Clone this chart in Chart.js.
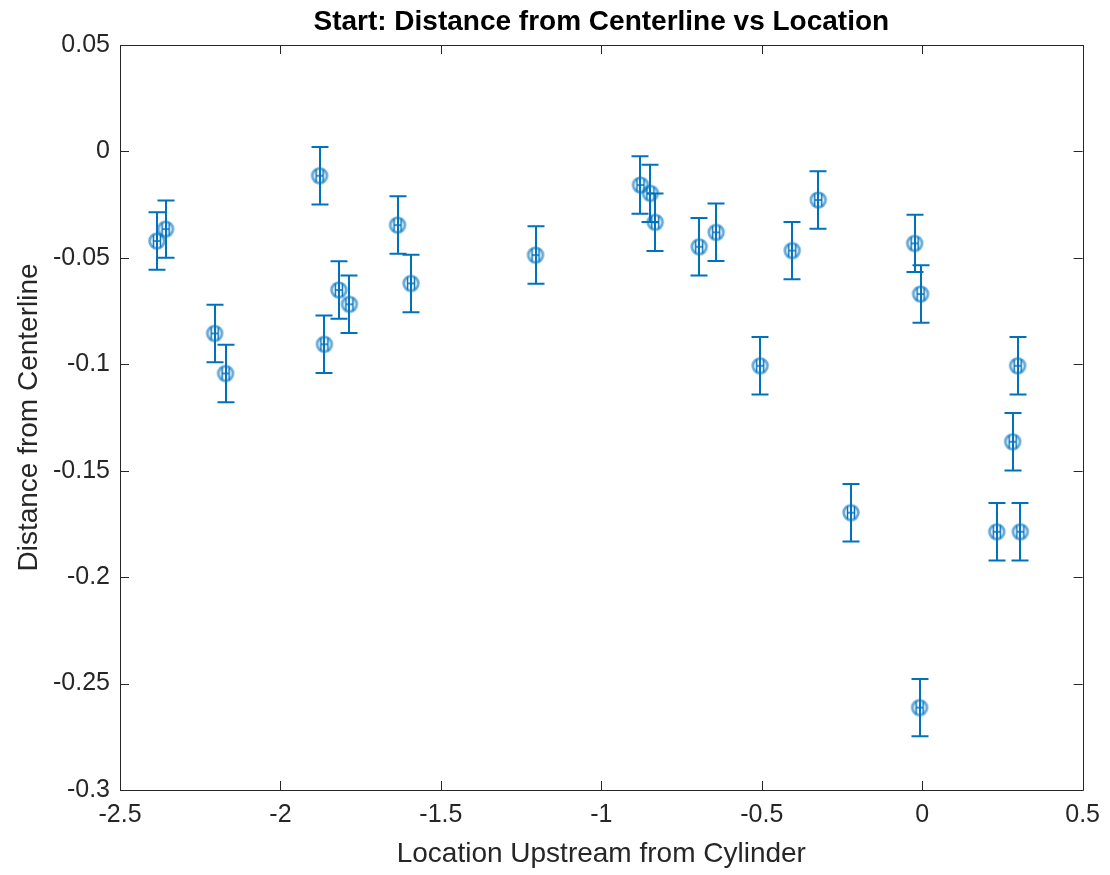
<!DOCTYPE html>
<html>
<head>
<meta charset="utf-8">
<title>Start: Distance from Centerline vs Location</title>
<script src="https://cdn.jsdelivr.net/npm/chart.js@4.4.1/dist/chart.umd.min.js"></script>
<style>
  html, body { margin: 0; padding: 0; background: #ffffff; }
  #wrap { width: 1110px; height: 875px; }
</style>
</head>
<body>
<div id="wrap"><canvas id="chart" width="1110" height="875"></canvas></div>
<script>
// Measured positions (upstream from cylinder) and offsets from the centerline
const locations = [
  -2.385, -2.358, -2.205, -2.171, -1.878, -1.863, -1.818, -1.785, -1.635,
  -1.593, -1.205, -0.878, -0.847, -0.832, -0.695, -0.642, -0.505, -0.405,
  -0.324, -0.222, -0.0235, -0.005, -0.008, 0.2324, 0.282, 0.2976, 0.306
];
const distances = [
  -0.0421, -0.0365, -0.0855, -0.1043, -0.0114, -0.0906, -0.0651, -0.0718, -0.0346,
  -0.0620, -0.0487, -0.0158, -0.0197, -0.0333, -0.0448, -0.0380, -0.1007, -0.0466,
  -0.0228, -0.1697, -0.0432, -0.0670, -0.2613, -0.1787, -0.1364, -0.1007, -0.1787
];
const distanceErr = [
  0.0135, 0.0135, 0.0135, 0.0135, 0.0135, 0.0135, 0.0135, 0.0135, 0.0135,
  0.0135, 0.0135, 0.0135, 0.0135, 0.0135, 0.0135, 0.0135, 0.0135, 0.0135,
  0.0135, 0.0135, 0.0135, 0.0135, 0.0135, 0.0135, 0.0135, 0.0135, 0.0135
];

const xTickValues = [-2.5, -2, -1.5, -1, -0.5, 0, 0.5];
const xTickLabels = ['-2.5', '-2', '-1.5', '-1', '-0.5', '0', '0.5'];
const yTickValues = [0.05, 0, -0.05, -0.1, -0.15, -0.2, -0.25, -0.3];
const yTickLabels = ['0.05', '0', '-0.05', '-0.1', '-0.15', '-0.2', '-0.25', '-0.3'];

const BLUE = '#0072BD';
const AXIS = '#262626';

// Circle marker with the inner hatch, drawn once and used as the point style
function makeMarker() {
  const c = document.createElement('canvas');
  c.width = 22; c.height = 22;
  const g = c.getContext('2d');
  g.strokeStyle = 'rgba(0,114,189,0.6)';
  g.lineWidth = 2.8;
  g.beginPath(); g.arc(11, 11, 7.3, 0, Math.PI * 2); g.stroke();
  g.strokeStyle = BLUE;
  g.lineWidth = 1.5;
  g.beginPath();
  g.moveTo(7.5, 4.5); g.lineTo(7.5, 17.5);
  g.moveTo(14.5, 4.5); g.lineTo(14.5, 17.5);
  g.moveTo(7.5, 11); g.lineTo(14.5, 11);
  g.stroke();
  return c;
}

function labelFor(values, labels, v) {
  let best = 0;
  for (let i = 1; i < values.length; i++) {
    if (Math.abs(values[i] - v) < Math.abs(values[best] - v)) best = i;
  }
  return labels[best];
}

// Vertical error bars with caps
const errorBars = {
  id: 'errorBars',
  beforeDatasetsDraw(chart) {
    const { ctx, scales: { x, y } } = chart;
    ctx.save();
    ctx.strokeStyle = BLUE;
    ctx.lineWidth = 2;
    const cap = 8.5;
    for (let i = 0; i < locations.length; i++) {
      const px = Math.round(x.getPixelForValue(locations[i]));
      const top = y.getPixelForValue(distances[i] + distanceErr[i]);
      const bot = y.getPixelForValue(distances[i] - distanceErr[i]);
      ctx.beginPath();
      ctx.moveTo(px, top); ctx.lineTo(px, bot);
      ctx.moveTo(px - cap, top); ctx.lineTo(px + cap, top);
      ctx.moveTo(px - cap, bot); ctx.lineTo(px + cap, bot);
      ctx.stroke();
    }
    ctx.restore();
  }
};

// Boxed axes with inward tick marks on all four sides
const axesBox = {
  id: 'axesBox',
  afterDraw(chart) {
    const { ctx, chartArea: a, scales: { x, y } } = chart;
    ctx.save();
    ctx.strokeStyle = AXIS;
    ctx.lineWidth = 1;
    const tl = 9;
    ctx.beginPath();
    ctx.rect(Math.round(a.left) + 0.5, Math.round(a.top) + 0.5,
             Math.round(a.right - a.left), Math.round(a.bottom - a.top));
    xTickValues.forEach(v => {
      const px = Math.round(x.getPixelForValue(v)) + 0.5;
      ctx.moveTo(px, a.bottom); ctx.lineTo(px, a.bottom - tl);
      ctx.moveTo(px, a.top); ctx.lineTo(px, a.top + tl);
    });
    yTickValues.forEach(v => {
      const py = Math.round(y.getPixelForValue(v)) + 0.5;
      ctx.moveTo(a.left, py); ctx.lineTo(a.left + tl, py);
      ctx.moveTo(a.right, py); ctx.lineTo(a.right - tl, py);
    });
    ctx.stroke();
    ctx.restore();
  }
};

Chart.defaults.font.family = '"Liberation Sans", Arial, Helvetica, sans-serif';
Chart.defaults.color = AXIS;

new Chart(document.getElementById('chart'), {
  type: 'scatter',
  data: {
    datasets: [{
      label: 'Start',
      data: locations.map((v, i) => ({ x: v, y: distances[i] })),
      pointStyle: makeMarker(),
      pointRadius: 8,
      pointHoverRadius: 8,
      showLine: false
    }]
  },
  options: {
    responsive: false,
    animation: false,
    events: [],
    layout: { padding: { left: 0, right: 25, top: 0, bottom: 0 } },
    plugins: {
      legend: { display: false },
      tooltip: { enabled: false },
      title: {
        display: true,
        fullSize: false,
        text: 'Start: Distance from Centerline vs Location',
        color: '#000000',
        font: { size: 28, weight: 'bold' },
        padding: { top: 5, bottom: 6.4 }
      }
    },
    scales: {
      x: {
        type: 'linear',
        min: -2.5, max: 0.5,
        afterBuildTicks: s => { s.ticks = xTickValues.map(v => ({ value: v })); },
        afterFit: s => { s.height = 85; },
        grid: { display: false, drawTicks: false },
        border: { display: false },
        ticks: {
          padding: 10,
          font: { size: 25 },
          maxRotation: 0,
          callback: v => labelFor(xTickValues, xTickLabels, v)
        },
        title: {
          display: true,
          text: 'Location Upstream from Cylinder',
          font: { size: 28 },
          padding: { top: 0, bottom: 4 }
        }
      },
      y: {
        type: 'linear',
        min: -0.3, max: 0.05,
        afterBuildTicks: s => { s.ticks = yTickValues.map(v => ({ value: v })); },
        afterFit: s => { s.width = 120; },
        grid: { display: false, drawTicks: false },
        border: { display: false },
        ticks: {
          padding: 10,
          font: { size: 25 },
          callback: v => labelFor(yTickValues, yTickLabels, v)
        },
        title: {
          display: true,
          text: 'Distance from Centerline',
          font: { size: 28 },
          padding: { top: 12, bottom: 0 }
        }
      }
    }
  },
  plugins: [errorBars, axesBox]
});
</script>
</body>
</html>
